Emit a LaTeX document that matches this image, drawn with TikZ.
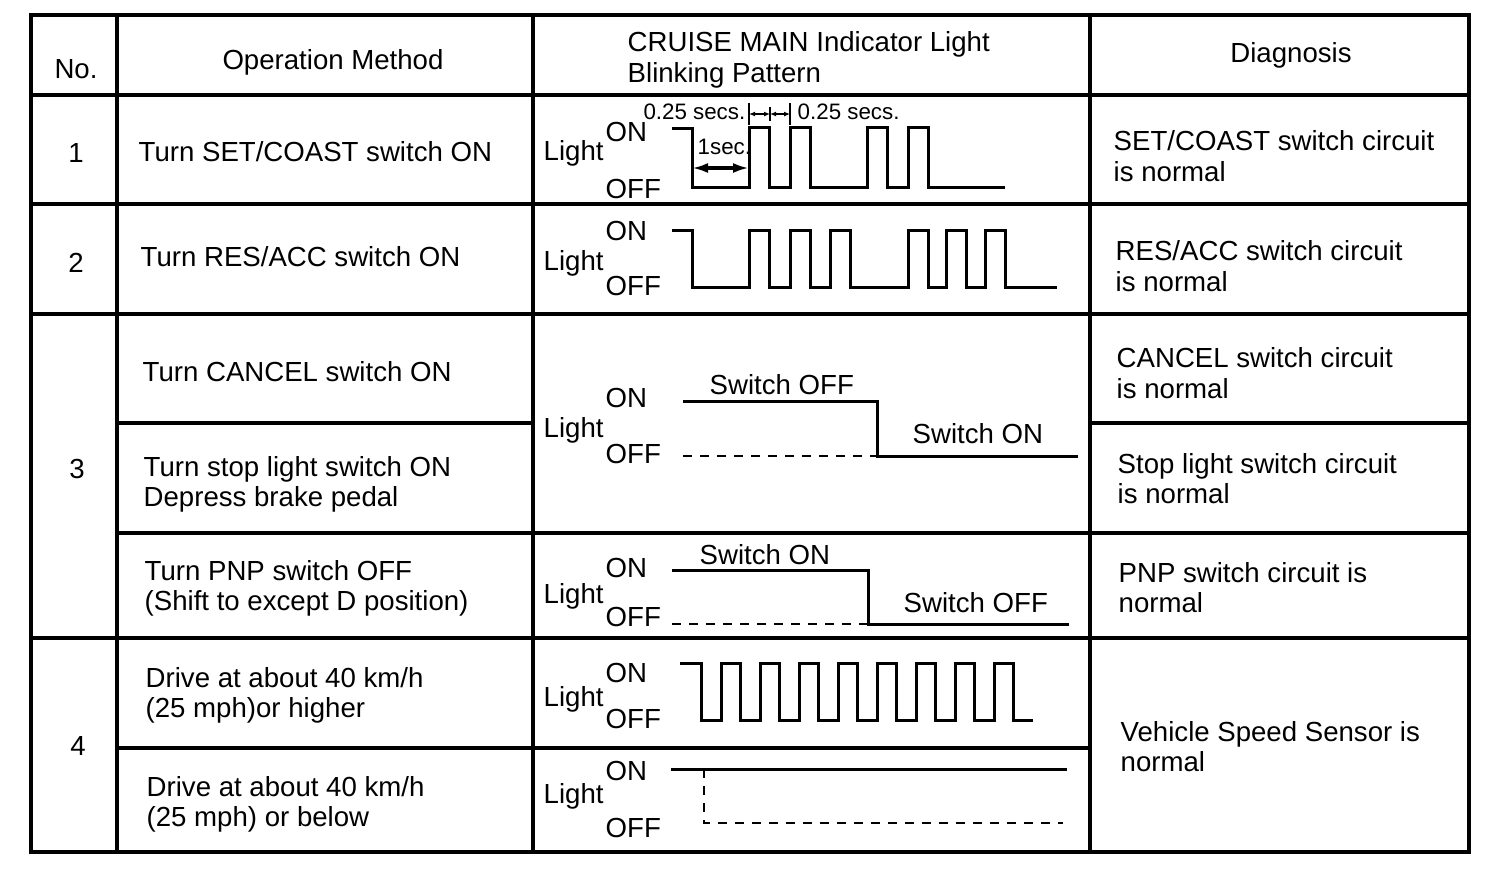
\documentclass[tikz,border=0pt]{standalone}
\usepackage{fontspec}
\setmainfont{Liberation Sans}
\usetikzlibrary{arrows.meta}

% Light / ON / OFF labels in front of a pattern
\newcommand{\lightonoff}[4]{%
  \node[txt] (#1light) at (543,#2) {Light};
  \node[txt] (#1on) at (605,#3) {ON};
  \node[txt] (#1off) at (605,#4) {OFF};}

\begin{document}
\begin{tikzpicture}[x=0.01cm, y=-0.01cm,
    every node/.style={inner sep=0pt, font=\fontsize{7.85}{9.4}\selectfont},
    txt/.style={anchor=base west},
    num/.style={anchor=base},
    small/.style={font=\fontsize{6.35}{7.6}\selectfont},
    grid/.style={line width=0.9pt},
    wave/.style={line width=0.85pt},
    offline/.style={line width=0.75pt, dash pattern=on 0.09cm off 0.08cm},
    tick/.style={line width=0.6pt},
    dimsmall/.style={line width=0.6pt, {Latex[length=0.06cm,width=0.05cm]}-{Latex[length=0.06cm,width=0.05cm]}},
    dimbig/.style={line width=0.9pt, {Latex[length=0.16cm,width=0.1cm]}-{Latex[length=0.16cm,width=0.1cm]}}]

\useasboundingbox (0,0) rectangle (1504,878);

% table
\draw[grid] (31,15) rectangle (1469,852);
\draw[grid] (117,15) -- (117,852);
\draw[grid] (533,15) -- (533,852);
\draw[grid] (1090,15) -- (1090,852);
\foreach \y in {95,204,314,638}
  \draw[grid] (31,\y) -- (1469,\y);
\draw[grid] (117,423) -- (533,423);
\draw[grid] (1090,423) -- (1469,423);
\draw[grid] (117,533) -- (1469,533);
\draw[grid] (117,748) -- (1090,748);

% header
\node[num] (hno) at (76,78) {No.};
\node[num] (hop) at (333,69) {Operation Method};
\node[txt] (hpat1) at (627,51) {CRUISE MAIN Indicator Light};
\node[txt] (hpat2) at (627,82) {Blinking Pattern};
\node[num] (hdiag) at (1291,62) {Diagnosis};

% numbers
\node[num] (n1) at (76,162) {1};
\node[num] (n2) at (76,272) {2};
\node[num] (n3) at (77,478) {3};
\node[num] (n4) at (78,755) {4};

% operation method
\node[txt] (op1) at (138,161) {Turn SET/COAST switch ON};
\node[txt] (op2) at (140,266) {Turn RES/ACC switch ON};
\node[txt] (op3a) at (142,381) {Turn CANCEL switch ON};
\node[txt] (op3b) at (143,476) {Turn stop light switch ON};
\node[txt] (op3c) at (143,506) {Depress brake pedal};
\node[txt] (op3d) at (144,580) {Turn PNP switch OFF};
\node[txt] (op3e) at (144,610) {(Shift to except D position)};
\node[txt] (op4a) at (145,687) {Drive at about 40 km/h};
\node[txt] (op4b) at (145,717) {(25 mph)or higher};
\node[txt] (op4c) at (146,796) {Drive at about 40 km/h};
\node[txt] (op4d) at (146,826) {(25 mph) or below};

% diagnosis
\node[txt] (dg1a) at (1113,150) {SET/COAST switch circuit};
\node[txt] (dg1b) at (1113,181) {is normal};
\node[txt] (dg2a) at (1115,260) {RES/ACC switch circuit};
\node[txt] (dg2b) at (1115,291) {is normal};
\node[txt] (dg3a) at (1116,367) {CANCEL switch circuit};
\node[txt] (dg3b) at (1116,398) {is normal};
\node[txt] (dg3c) at (1117,473) {Stop light switch circuit};
\node[txt] (dg3d) at (1117,503) {is normal};
\node[txt] (dg3e) at (1118,582) {PNP switch circuit is};
\node[txt] (dg3f) at (1118,612) {normal};
\node[txt] (dg4a) at (1120,741) {Vehicle Speed Sensor is};
\node[txt] (dg4b) at (1120,771) {normal};

% pattern 1
\lightonoff{pa}{160}{141}{198}
\draw[wave] (672,128) -- (692,128) -- (692,187)
  \foreach \a in {749,790,867,908} { -- (\a,187) -- (\a,127) -- (\a+20,127) -- (\a+20,187) }
  -- (1005,187);
\draw[tick] (749,103) -- (749,125);
\draw[tick] (770,107) -- (770,121);
\draw[tick] (790,103) -- (790,125);
\draw[dimsmall] (749,114) -- (770,114);
\draw[dimsmall] (770,114) -- (790,114);
\node[small, anchor=base east] (qa) at (746,119) {0.25 secs.};
\node[small, anchor=base west] (qb) at (797,119) {0.25 secs.};
\node[small, anchor=base west] (sec) at (697,154) {1sec.};
\draw[dimbig] (692,168) -- (749,168);

% pattern 2
\lightonoff{pb}{270}{240}{295}
\draw[wave] (672,230) -- (692,230) -- (692,287)
  \foreach \a in {749,790,830,908,946,985} { -- (\a,287) -- (\a,230) -- (\a+20,230) -- (\a+20,287) }
  -- (1057,287);

% pattern 3
\lightonoff{pc}{437}{407}{463}
\draw[wave] (683,401) -- (877,401) -- (877,456) -- (1078,456);
\draw[offline] (683,456) -- (877,456);
\node[txt] (swoff) at (709,394) {Switch OFF};
\node[txt] (swon) at (912,443) {Switch ON};

% pattern PNP
\lightonoff{pd}{603}{577}{626}
\draw[wave] (672,570) -- (868,570) -- (868,624) -- (1069,624);
\draw[offline] (672,624) -- (868,624);
\node[txt] (pnpon) at (699,564) {Switch ON};
\node[txt] (pnpoff) at (903,612) {Switch OFF};

% pattern 4
\lightonoff{pe}{706}{682}{728}
\draw[wave] (680,663) -- (701,663) -- (701,720)
  \foreach \k in {0,...,7} { -- (721+39*\k,720) -- (721+39*\k,663) -- (740+39*\k,663) -- (740+39*\k,720) }
  -- (1033,720);

\lightonoff{pf}{803}{780}{837}
\draw[wave] (671,769) -- (1067,769);
\draw[offline] (704,769) -- (704,823) -- (1063,823);

\end{tikzpicture}
\end{document}
